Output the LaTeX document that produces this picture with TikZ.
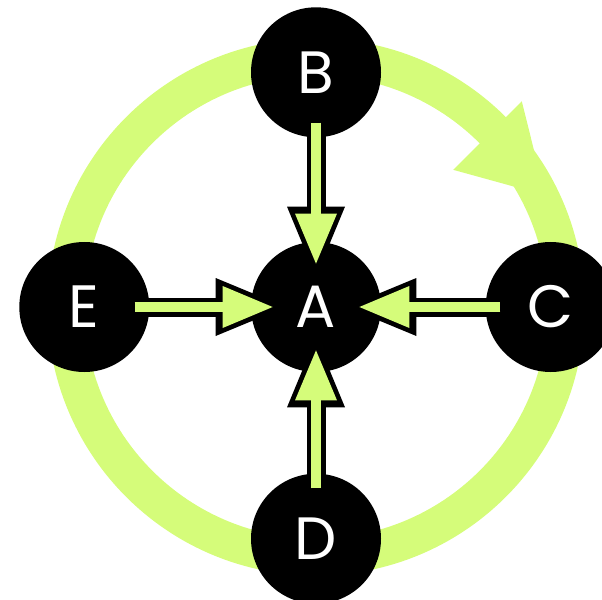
\documentclass[tikz,border=0pt]{standalone}
\usepackage{fontspec}
\newfontfamily\hubfont{Poppins}
\usetikzlibrary{arrows.meta,positioning}
\definecolor{ringGreen}{RGB}{213,252,122}

\begin{document}
\begin{tikzpicture}
\tikzset{hubFont/.style={font=\hubfont\fontsize{34}{40}\selectfont}}
\tikzset{hub/.style={circle,fill=black,text=white,minimum size=2.6cm,inner sep=0pt,hubFont}}
\tikzset{feed/.style={draw=black,line width=0.38cm,shorten <=-0.3cm,shorten >=-0.7cm,
  -{Triangle[length=1.4cm,width=1.16cm,line width=0pt]},
  postaction={draw=ringGreen,line width=0.2cm,shorten <=-0.3cm,shorten >=-0.44cm,
  -{Triangle[length=1.0cm,width=0.84cm,line width=0pt]}}}}

\useasboundingbox (-6.32,-5.84) rectangle (5.72,6.14);

% outer cycle
\coordinate (cycle) at (0,0);
\draw[ringGreen,line width=0.74cm] (cycle) circle (5cm);
\fill[ringGreen] (45:5.82) -- (26:5.1) -- (45:3.88) -- cycle;

\node[hub] (A) at (cycle) {A};
\node[hub,above=2.08cm of A] (B) {B};
\node[hub,right=2.08cm of A] (C) {C};
\node[hub,below=2.02cm of A] (D) {D};
\node[hub,left=2.02cm of A] (E) {E};

\path[feed] (B) -- (A);
\path[feed] (C) -- (A);
\path[feed] (D) -- (A);
\path[feed] (E) -- (A);
\end{tikzpicture}
\end{document}
